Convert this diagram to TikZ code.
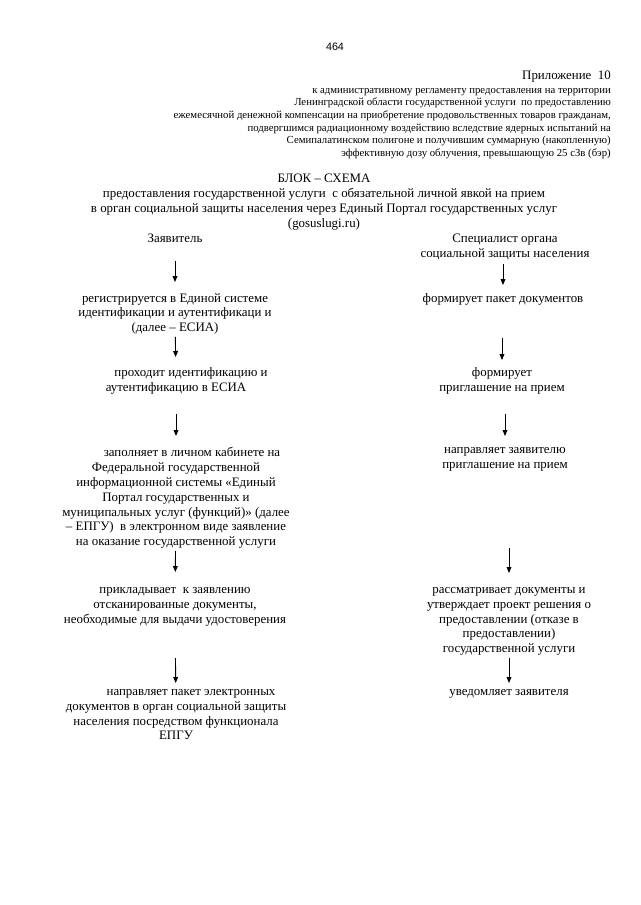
\documentclass[tikz,border=0pt]{standalone}
\usepackage{fontspec}
\setmainfont{Liberation Serif}
\newfontfamily\pagenumfont{Liberation Sans}
\usetikzlibrary{arrows.meta}

\begin{document}
\begin{tikzpicture}[x=1pt, y=-1pt,
    every node/.style={inner sep=0pt},
    txt/.style={align=center, font=\fontsize{12.9}{14.9}\selectfont},
    hdr/.style={align=right, font=\fontsize{10.75}{12.6}\selectfont},
    arr/.style={-{Triangle[length=6pt,width=4.8pt]}, line width=0.9pt}
  ]
    \useasboundingbox (0,0) rectangle (640,905);

    % page header
    \node[font=\pagenumfont\fontsize{10.75}{12}\selectfont] (pnum) at (335,47) {464};
    \node[anchor=east, font=\fontsize{12.9}{15}\selectfont] (pril) at (611,77) {Приложение~~10};
    \node[hdr, anchor=north east] (reg) at (611,88) {к административному регламенту предоставления на территории\\
      Ленинградской области государственной услуги~~по предоставлению\\
      ежемесячной денежной компенсации на приобретение продовольственных товаров гражданам,\\
      подвергшимся радиационному воздействию вследствие ядерных испытаний на\\
      Семипалатинском полигоне и получившим суммарную (накопленную)\\
      эффективную дозу облучения, превышающую 25 сЗв (бэр)};

    % title
    \node[txt, anchor=north] (title) at (324,174) {БЛОК – СХЕМА\\
      предоставления государственной услуги~~с обязательной личной явкой на прием\\
      в орган социальной защиты населения через Единый Портал государственных услуг\\
      (gosuslugi.ru)};

    % left column: applicant
    \node[txt, anchor=north] (zv) at (175,234) {Заявитель};
    \node[txt, anchor=north] (z1) at (175,293) {регистрируется в Единой системе\\идентификации и аутентификаци и\\(далее – ЕСИА)};
    \node[txt, anchor=north] (z2) at (176,367) {\hspace*{30pt}проходит идентификацию и\\аутентификацию в ЕСИА};
    \node[txt, anchor=north] (z3) at (176,447) {\hspace*{32pt}заполняет в личном кабинете на\\Федеральной государственной\\информационной системы «Единый\\Портал государственных и\\муниципальных услуг (функций)» (далее\\– ЕПГУ)~~в электронном виде заявление\\на оказание государственной услуги};
    \node[txt, anchor=north] (z4) at (175,587) {прикладывает~~к заявлению\\отсканированные документы,\\необходимые для выдачи удостоверения};
    \node[txt, anchor=north] (z5) at (176,689) {\hspace*{30pt}направляет пакет электронных\\документов в орган социальной защиты\\населения посредством функционала\\ЕПГУ};

    % right column: specialist
    \node[txt, anchor=north] (sp) at (505,234) {Специалист органа\\социальной защиты населения};
    \node[txt, anchor=north] (s1) at (503,293) {формирует пакет документов};
    \node[txt, anchor=north] (s2) at (502,367) {формирует\\приглашение на прием};
    \node[txt, anchor=north] (s3) at (505,447) {направляет заявителю\\приглашение на прием};
    \node[txt, anchor=north] (s4) at (509,587) {рассматривает документы и\\утверждает проект решения о\\предоставлении (отказе в\\предоставлении)\\государственной услуги};
    \node[txt, anchor=north] (s5) at (509,689) {уведомляет заявителя};

    % arrows
    \draw[arr, shorten <=18pt, shorten >=11pt] (zv) -- (z1);
    \draw[arr, shorten <=2pt, shorten >=10pt] (z1) -- (z2);
    \draw[arr, shorten <=20pt, shorten >=11pt] (z2) -- (z3);
    \draw[arr, shorten <=2pt, shorten >=15pt] (z3) -- (z4);
    \draw[arr, shorten <=32pt, shorten >=6pt] (z4) -- (z5);
    \draw[arr, shorten <=3pt, shorten >=8pt] (sp.south -| s1) -- (s1.north);
    \draw[arr, shorten <=33pt, shorten >=7pt] (s1.south -| s2) -- (s2.north);
    \draw[arr, shorten <=20pt, shorten >=11pt] (s2.south -| s3) -- (s3.north);
    \draw[arr, shorten <=77pt, shorten >=14pt] (s3.south -| s4) -- (s4.north);
    \draw[arr, shorten <=2pt, shorten >=6pt] (s4.south -| s5) -- (s5.north);
  \end{tikzpicture}
\end{document}
